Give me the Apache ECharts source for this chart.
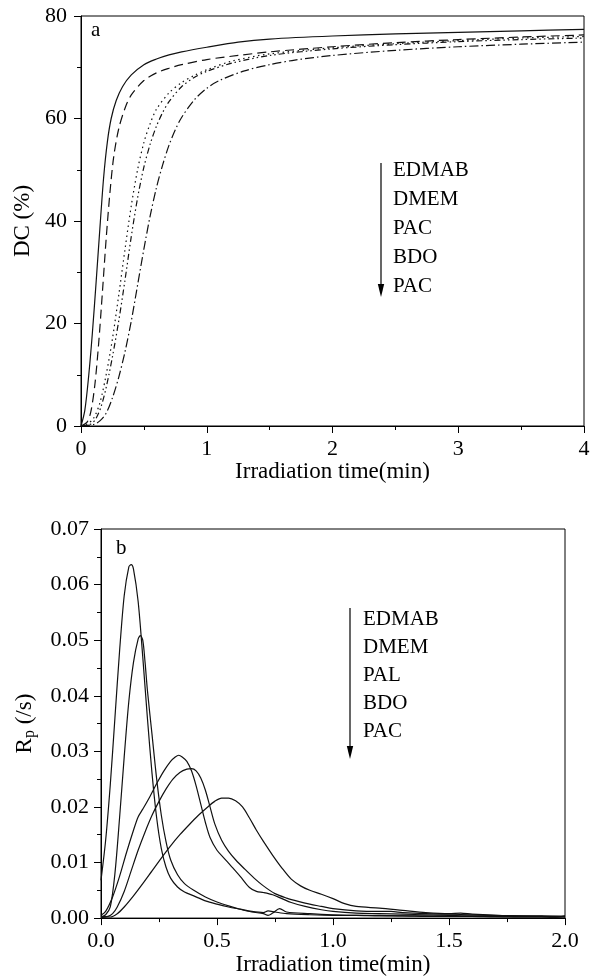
<!DOCTYPE html>
<html>
<head>
<meta charset="utf-8">
<script src="https://cdn.jsdelivr.net/npm/echarts@6/dist/echarts.min.js"></script>
<style>
  html, body { margin: 0; padding: 0; background: #fff; }
  #chart { width: 604px; height: 977px; }
</style>
</head>
<body>
<div id="chart"></div>
<script>
// panel a: degree of conversion (%) vs irradiation time (min)
const dcTimeEdmab = [0, 0.03, 0.06, 0.09, 0.12, 0.15, 0.18, 0.21, 0.24, 0.28, 0.33, 0.40, 0.50, 0.60, 0.70, 0.80, 1.00, 1.25, 1.50, 2.00, 2.50, 3.00, 3.50, 4.00]
const dcEdmab = [0, 3, 9.5, 18, 28, 38.5, 48.5, 55.5, 60, 63.5, 66.2, 68.5, 70.5, 71.6, 72.4, 73, 73.9, 74.9, 75.5, 76.1, 76.5, 76.8, 77.1, 77.4]

const dcTimeDmem = [0, 0.05, 0.08, 0.11, 0.14, 0.17, 0.20, 0.23, 0.26, 0.30, 0.35, 0.40, 0.50, 0.60, 0.70, 0.80, 1.00, 1.25, 1.50, 2.00, 2.50, 3.00, 3.50, 4.00]
const dcDmem = [0, 0.8, 3, 8, 16, 26, 36.5, 45.5, 52.5, 58, 62, 64.6, 67.4, 68.9, 69.8, 70.5, 71.5, 72.3, 73, 74, 74.8, 75.4, 75.9, 76.3]

const dcTimePac1 = [0, 0.05, 0.10, 0.15, 0.20, 0.25, 0.30, 0.35, 0.40, 0.45, 0.50, 0.55, 0.60, 0.70, 0.80, 0.90, 1.00, 1.20, 1.50, 2.00, 2.50, 3.00, 3.50, 4.00]
const dcPac1 = [0, 0.4, 1.5, 4.5, 10, 17, 25.5, 34.5, 43, 50, 55.3, 59, 61.8, 65, 67, 68.4, 69.5, 71.2, 72.6, 73.8, 74.6, 75.2, 75.7, 76.0]

const dcTimeBdo = [0, 0.08, 0.12, 0.16, 0.20, 0.25, 0.30, 0.35, 0.40, 0.45, 0.50, 0.55, 0.60, 0.65, 0.70, 0.80, 0.90, 1.00, 1.20, 1.50, 2.00, 2.50, 3.00, 3.50, 4.00]
const dcBdo = [0, 0.4, 1.5, 3.8, 7.5, 13.5, 20.5, 28.5, 37, 44.5, 50.5, 55, 58.5, 61.2, 63.3, 66.2, 68, 69.2, 70.8, 72.3, 73.6, 74.4, 75, 75.4, 75.7]

const dcTimePac2 = [0, 0.10, 0.15, 0.20, 0.25, 0.30, 0.35, 0.40, 0.45, 0.50, 0.55, 0.60, 0.65, 0.70, 0.75, 0.80, 0.90, 1.00, 1.10, 1.30, 1.50, 1.70, 2.00, 2.50, 3.00, 3.50, 4.00]
const dcPac2 = [0, 0.3, 1, 2.5, 5.5, 9.5, 14.5, 20.5, 27.5, 34.5, 41, 46.5, 51, 54.8, 57.8, 60.2, 63.6, 65.9, 67.4, 69.3, 70.5, 71.4, 72.3, 73.3, 74, 74.5, 74.9]

// panel b: polymerization rate Rp (/s) vs irradiation time (min)
const rpTimeEdmab = [0, 0.02, 0.04, 0.06, 0.08, 0.10, 0.12, 0.13, 0.14, 0.16, 0.18, 0.20, 0.22, 0.24, 0.26, 0.28, 0.30, 0.33, 0.36, 0.40, 0.45, 0.50, 0.55, 0.60, 0.65, 0.70, 0.72, 0.75, 0.80, 0.90, 1.00, 1.10, 1.20, 1.30, 1.40, 1.50, 1.60, 1.70, 1.80, 1.90, 2.00]
const rpEdmab = [0.0068, 0.014, 0.024, 0.036, 0.048, 0.058, 0.0632, 0.0636, 0.0628, 0.057, 0.047, 0.036, 0.026, 0.018, 0.0125, 0.0092, 0.0072, 0.0056, 0.0047, 0.0040, 0.0031, 0.0025, 0.0020, 0.0016, 0.0012, 0.0010, 0.0013, 0.0011, 0.0008, 0.0006, 0.0005, 0.0005, 0.0004, 0.0004, 0.0003, 0.0003, 0.0003, 0.0002, 0.0002, 0.0002, 0.0002]

const rpTimeDmem = [0, 0.02, 0.04, 0.06, 0.08, 0.10, 0.12, 0.14, 0.16, 0.17, 0.18, 0.19, 0.20, 0.22, 0.24, 0.26, 0.28, 0.30, 0.33, 0.36, 0.40, 0.45, 0.50, 0.55, 0.60, 0.65, 0.70, 0.72, 0.74, 0.77, 0.80, 0.90, 1.00, 1.10, 1.20, 1.30, 1.40, 1.50, 1.60, 1.70, 1.80, 1.90, 2.00]
const rpDmem = [0.0002, 0.0006, 0.002, 0.008, 0.018, 0.029, 0.039, 0.046, 0.0502, 0.0508, 0.0500, 0.046, 0.041, 0.033, 0.025, 0.0185, 0.0138, 0.0105, 0.0078, 0.0062, 0.0050, 0.0038, 0.0029, 0.0022, 0.0016, 0.0011, 0.0008, 0.0005, 0.0009, 0.0017, 0.0011, 0.0008, 0.0006, 0.0005, 0.0005, 0.0004, 0.0004, 0.0003, 0.0003, 0.0003, 0.0002, 0.0002, 0.0002]

const rpTimePal = [0, 0.02, 0.05, 0.08, 0.11, 0.14, 0.16, 0.18, 0.21, 0.24, 0.27, 0.30, 0.32, 0.335, 0.35, 0.37, 0.39, 0.41, 0.43, 0.45, 0.47, 0.50, 0.53, 0.56, 0.60, 0.64, 0.67, 0.70, 0.74, 0.78, 0.82, 0.88, 0.95, 1.00, 1.10, 1.20, 1.30, 1.40, 1.50, 1.60, 1.70, 1.80, 1.90, 2.00]
const rpPal = [0.0005, 0.0012, 0.0038, 0.0075, 0.0118, 0.0158, 0.0182, 0.0196, 0.0218, 0.0242, 0.0264, 0.0282, 0.0290, 0.0293, 0.0290, 0.0282, 0.0265, 0.0238, 0.0205, 0.0172, 0.0145, 0.0122, 0.0108, 0.0094, 0.0075, 0.0055, 0.0048, 0.0046, 0.0042, 0.0035, 0.0028, 0.0021, 0.0015, 0.0012, 0.0009, 0.0008, 0.0007, 0.0006, 0.0005, 0.0004, 0.0004, 0.0003, 0.0003, 0.0003]

const rpTimeBdo = [0, 0.03, 0.05, 0.07, 0.10, 0.13, 0.16, 0.19, 0.22, 0.25, 0.28, 0.31, 0.34, 0.37, 0.39, 0.41, 0.43, 0.45, 0.47, 0.49, 0.52, 0.55, 0.58, 0.62, 0.66, 0.70, 0.75, 0.80, 0.85, 0.90, 0.95, 1.00, 1.10, 1.20, 1.25, 1.30, 1.40, 1.50, 1.60, 1.70, 1.80, 1.90, 2.00]
const rpBdo = [0.0001, 0.0003, 0.0008, 0.0020, 0.0048, 0.0085, 0.0122, 0.0155, 0.0185, 0.0210, 0.0232, 0.0250, 0.0262, 0.0268, 0.0269, 0.0265, 0.0252, 0.0230, 0.0200, 0.0170, 0.0140, 0.0120, 0.0105, 0.0088, 0.0072, 0.0058, 0.0044, 0.0036, 0.0030, 0.0025, 0.0021, 0.0017, 0.0013, 0.0012, 0.0012, 0.0010, 0.0008, 0.0007, 0.0006, 0.0005, 0.0004, 0.0004, 0.0003]

const rpTimePac = [0, 0.04, 0.07, 0.10, 0.14, 0.18, 0.22, 0.26, 0.30, 0.34, 0.38, 0.42, 0.46, 0.49, 0.52, 0.55, 0.58, 0.61, 0.64, 0.67, 0.70, 0.74, 0.78, 0.82, 0.86, 0.90, 0.95, 1.00, 1.05, 1.10, 1.20, 1.30, 1.40, 1.50, 1.55, 1.60, 1.70, 1.80, 1.90, 1.95, 2.00]
const rpPac = [0.0003, 0.0002, 0.0008, 0.0020, 0.0040, 0.0062, 0.0085, 0.0108, 0.0130, 0.0150, 0.0168, 0.0185, 0.0200, 0.0210, 0.0216, 0.0216, 0.0211, 0.0200, 0.0180, 0.0158, 0.0138, 0.0113, 0.0090, 0.0070, 0.0058, 0.0050, 0.0043, 0.0035, 0.0026, 0.0021, 0.0018, 0.0014, 0.0010, 0.0008, 0.0009, 0.0007, 0.0005, 0.0004, 0.0003, 0.0001, 0.0004]

const legendA = ['EDMAB', 'DMEM', 'PAC', 'BDO', 'PAC']
const legendB = ['EDMAB', 'DMEM', 'PAL', 'BDO', 'PAC']

const font = 'Liberation Serif, Times New Roman, serif'
const ink = '#000'

const zip = (xs, ys) => xs.map((x, i) => [x, ys[i]])

const axisCommon = {
  type: 'value',
  axisLine: { show: true, lineStyle: { color: ink, width: 1 } },
  axisTick: { show: true, length: 7, lineStyle: { color: ink } },
  minorTick: { show: true, splitNumber: 2, length: 4, lineStyle: { color: ink } },
  splitLine: { show: false },
  axisLabel: { color: ink, fontSize: 22, fontFamily: font },
  nameLocation: 'middle',
  nameTextStyle: { color: ink, fontSize: 23, fontFamily: font }
}

const lineSeries = (name, data, dash, idx) => ({
  name,
  type: 'line',
  xAxisIndex: idx,
  yAxisIndex: idx,
  data,
  showSymbol: false,
  symbol: 'none',
  smooth: 0.3,
  lineStyle: { color: '#111', width: 1.2, type: dash }
})

// legend text + arrow drawn as annotations
function legendGraphic(labels, x, y0, step, arrowX, arrowTop, arrowTip) {
  const els = labels.map((t, i) => ({
    type: 'text',
    left: x,
    top: y0 + i * step - 11,
    style: { text: t, fill: ink, fontSize: 21, fontFamily: font }
  }))
  els.push({
    type: 'line',
    shape: { x1: arrowX, y1: arrowTop, x2: arrowX, y2: arrowTip - 10 },
    style: { stroke: ink, lineWidth: 1.2 }
  })
  els.push({
    type: 'polygon',
    shape: { points: [[arrowX - 3.2, arrowTip - 13], [arrowX + 3.2, arrowTip - 13], [arrowX, arrowTip]] },
    style: { fill: ink }
  })
  return els
}

const chart = echarts.init(document.getElementById('chart'), null, { renderer: 'canvas' })

chart.setOption({
  animation: false,
  backgroundColor: '#fff',
  grid: [
    { left: 81, top: 16, width: 503, height: 410, show: true, borderColor: ink, borderWidth: 1, backgroundColor: 'transparent' },
    { left: 101, top: 529, width: 464, height: 390, show: true, borderColor: ink, borderWidth: 1, backgroundColor: 'transparent' }
  ],
  xAxis: [
    {
      ...axisCommon, gridIndex: 0, min: 0, max: 4, interval: 1,
      name: 'Irradiation time(min)', nameGap: 32,
      axisLabel: { ...axisCommon.axisLabel, margin: 12 }
    },
    {
      ...axisCommon, gridIndex: 1, min: 0, max: 2, interval: 0.5,
      name: 'Irradiation time(min)', nameGap: 33,
      axisLabel: { ...axisCommon.axisLabel, margin: 12, formatter: (v) => v.toFixed(1) }
    }
  ],
  yAxis: [
    {
      ...axisCommon, gridIndex: 0, min: 0, max: 80, interval: 20,
      name: 'DC (%)', nameGap: 44,
      axisLabel: { ...axisCommon.axisLabel, margin: 14 }
    },
    {
      ...axisCommon, gridIndex: 1, min: 0, max: 0.07, interval: 0.01,
      name: '{r|R}{s|p}{r| (/s)}', nameGap: 63,
      nameTextStyle: {
        color: ink, fontSize: 23, fontFamily: font,
        rich: {
          r: { fontSize: 23, fontFamily: font, color: ink },
          s: { fontSize: 16, fontFamily: font, color: ink, padding: [10, 0, 0, 0] }
        }
      },
      axisLabel: { ...axisCommon.axisLabel, margin: 12, formatter: (v) => v.toFixed(2) }
    }
  ],
  graphic: [
    { type: 'text', left: 91, top: 20, style: { text: 'a', fill: ink, fontSize: 21, fontFamily: font } },
    { type: 'text', left: 116, top: 538, style: { text: 'b', fill: ink, fontSize: 21, fontFamily: font } },
    ...legendGraphic(legendA, 393, 171, 29, 381, 163, 297),
    ...legendGraphic(legendB, 363, 620, 28, 350, 608, 759)
  ],
  series: [
    lineSeries('EDMAB', zip(dcTimeEdmab, dcEdmab), 'solid', 0),
    lineSeries('DMEM', zip(dcTimeDmem, dcDmem), [9, 5], 0),
    lineSeries('PAC', zip(dcTimePac1, dcPac1), [1.5, 3.5], 0),
    lineSeries('BDO', zip(dcTimeBdo, dcBdo), [6, 3, 1.5, 3, 1.5, 3], 0),
    lineSeries('PAC ', zip(dcTimePac2, dcPac2), [9, 3, 1.5, 3], 0),
    lineSeries('EDMAB', zip(rpTimeEdmab, rpEdmab), 'solid', 1),
    lineSeries('DMEM', zip(rpTimeDmem, rpDmem), 'solid', 1),
    lineSeries('PAL', zip(rpTimePal, rpPal), 'solid', 1),
    lineSeries('BDO', zip(rpTimeBdo, rpBdo), 'solid', 1),
    lineSeries('PAC', zip(rpTimePac, rpPac), 'solid', 1)
  ]
})
</script>
</body>
</html>
